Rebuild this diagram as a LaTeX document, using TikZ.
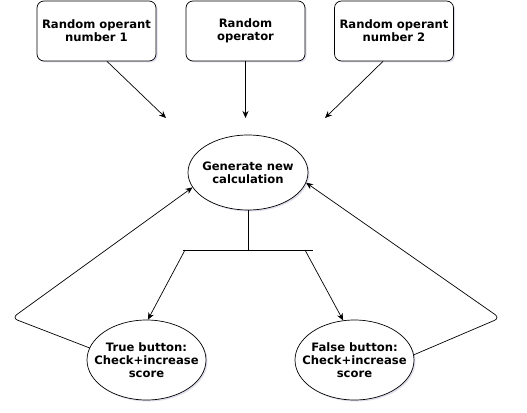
\documentclass[tikz,border=0pt]{standalone}
\usepackage{fontspec}
\setmainfont{DejaVu Sans}
\usetikzlibrary{arrows.meta}
\usetikzlibrary{shapes.geometric}
\usetikzlibrary{shadows}

\begin{document}
\begin{tikzpicture}[x=1pt,y=-1pt,
    arr/.style={line width=0.7pt,-{Stealth[length=7pt,width=6pt]}},
    shade/.style={drop shadow={shadow xshift=1.5pt,shadow yshift=-1.5pt,opacity=0.2,fill=blue!30!gray}},
    txt/.style={align=center,font=\bfseries\fontsize{11.6}{13.2}\selectfont},
    inbox/.style={txt,draw,fill=white,line width=0.7pt,rounded corners=7pt,minimum width=119pt,minimum height=60pt,shade},
    blob/.style={txt,ellipse,draw,fill=white,line width=0.7pt,inner xsep=-12pt,inner ysep=0pt,shade}]

    \useasboundingbox (0,0) rectangle (527,412);

    % input boxes
    \node[inbox] (opnd1) at (96.5,31) {Random operant\\number 1};
    \node[inbox] (oper)  at (245.5,31) {Random\\operator};
    \node[inbox] (opnd2) at (394,31) {Random operant\\number 2};

    % calculation and buttons
    \node[blob,minimum width=120pt,minimum height=75pt] (gen) at (248,172.5) {Generate new\\calculation};
    \node[blob,minimum width=119pt,minimum height=80pt] (truebtn) at (146.5,360) {True button:\\Check+increase\\score};
    \node[blob,minimum width=119pt,minimum height=80pt] (falsebtn) at (354.5,360) {False button:\\Check+increase\\score};

    % free ends
    \coordinate (in1) at (166,118);
    \coordinate (in2) at (245.5,118);
    \coordinate (in3) at (325,118);
    \coordinate (split) at (248,250);
    \coordinate (splitl) at (183,250);
    \coordinate (splitr) at (313,250);
    \coordinate (lcorner) at (12,318);
    \coordinate (rcorner) at (500,318);

    % inputs to calculation
    \draw[arr] ([xshift=10.5pt]opnd1.south) -- (in1);
    \draw[arr] (oper.south) -- (in2);
    \draw[arr] ([xshift=-11pt]opnd2.south) -- (in3);

    % split to buttons
    \draw[line width=0.7pt] (gen.south) -- (split);
    \draw[line width=0.7pt] (splitl) -- (splitr);
    \draw[arr] ([xshift=2pt]splitl) -- (truebtn.88);
    \draw[arr] ([xshift=-8pt]splitr) -- (falsebtn.106);

    % back to calculation
    \draw[arr,rounded corners=6pt] (truebtn.168) -- (lcorner) -- (gen.195);
    \draw[arr,rounded corners=6pt] (falsebtn.5) -- (rcorner) -- (gen.350);
\end{tikzpicture}
\end{document}
